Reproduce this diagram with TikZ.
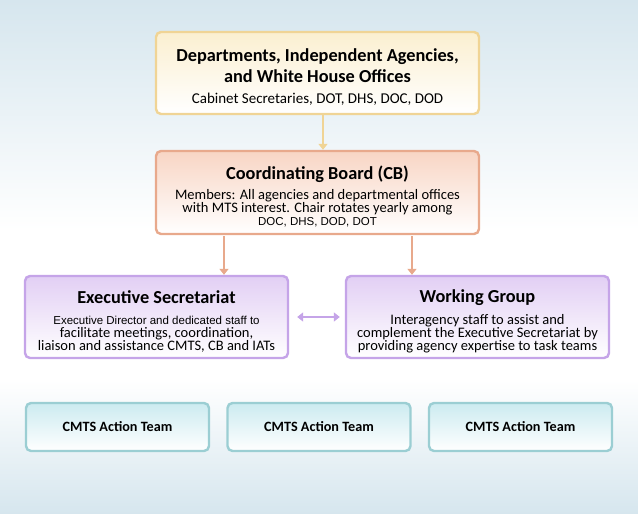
\documentclass[tikz,border=0pt]{standalone}
\usepackage{fontspec}
\setmainfont{Carlito}
\newfontfamily\arialfont{Liberation Sans}
\usetikzlibrary{positioning,arrows.meta,calc}

\definecolor{bgblue}{HTML}{D6E6EE}
\definecolor{goldline}{HTML}{F0D495}
\definecolor{goldfill}{HTML}{FBEFD0}
\definecolor{salmonline}{HTML}{E8A98C}
\definecolor{salmonfill}{HTML}{F8D5C4}
\definecolor{lilacline}{HTML}{C5A4E8}
\definecolor{lilacfill}{HTML}{E2CFF4}
\definecolor{tealline}{HTML}{9BCED3}
\definecolor{tealfill}{HTML}{CCEBF0}

\tikzstyle{box} = [rectangle, rounded corners=5pt, line width=2.4pt,
align=center, inner sep=0pt, font=\fontsize{14.5}{13}\selectfont]
\tikzstyle{topblock} = [box, draw=goldline, top color=goldfill,
bottom color=white, minimum width=323pt, minimum height=82pt,
font=\fontsize{15}{21}\selectfont]
\tikzstyle{boardblock} = [box, draw=salmonline, top color=salmonfill,
bottom color=white, minimum width=323pt, minimum height=83pt]
\tikzstyle{groupblock} = [box, draw=lilacline, top color=lilacfill,
bottom color=white, minimum width=263pt, minimum height=82pt]
\tikzstyle{teamblock} = [box, draw=tealline, top color=tealfill,
bottom color=white, minimum width=183pt, minimum height=48pt,
font=\bfseries\fontsize{14.2}{16}\selectfont]
\tikzstyle{arrow} = [line width=2.6pt,-{Triangle[width=9pt,length=6pt]}]
\tikzstyle{doublearrow} = [line width=2.6pt,{Triangle[width=9pt,length=6pt]}-{Triangle[width=9pt,length=6pt]}]
\newcommand{\boxtitle}[1]{{\bfseries\fontsize{18.3}{20}\selectfont\rule{0pt}{21pt}#1}}
\newcommand{\arialline}[1]{{\arialfont\fontsize{11.5}{12}\selectfont #1}}

\begin{document}
\begin{tikzpicture}[x=1pt,y=1pt]
    % Background
    \useasboundingbox (0,0) rectangle (638,-514);
    \fill[top color=bgblue, bottom color=white] (0,0) rectangle (638,-230);
    \fill[white] (0,-230) rectangle (638,-380);
    \fill[top color=white, bottom color=bgblue] (0,-380) rectangle (638,-514);
    % Departments and Coordinating Board
    \node (DEPT) [topblock] at (317.5,-73) {\boxtitle{Departments, Independent Agencies,}\\
      {\bfseries\fontsize{18.3}{20}\selectfont and White House Offices}\\
      Cabinet Secretaries, DOT, DHS, DOC, DOD};
    \node (CB) [boardblock, below of=DEPT, node distance=119.5pt] {\boxtitle{Coordinating Board (CB)}\\[6pt]
      Members: All agencies and departmental offices\\
      with MTS interest. Chair rotates yearly among\\
      \arialline{DOC, DHS, DOD, DOT}};
    % Executive Secretariat and Working Group
    \node (ES) [groupblock] at (156.5,-317) {\boxtitle{Executive Secretariat}\\[8pt]
      \arialline{Executive Director and dedicated staff to}\\
      facilitate meetings, coordination,\\
      liaison and assistance CMTS, CB and IATs};
    \node (WG) [groupblock, right of=ES, node distance=321pt] {\boxtitle{Working Group}\\[8pt]
      Interagency staff to assist and\\
      complement the Executive Secretariat by\\
      providing agency expertise to task teams};
    % CMTS Action Teams
    \node (AT1) [teamblock] at (117.5,-427) {CMTS Action Team};
    \node (AT2) [teamblock, right of=AT1, node distance=201.5pt] {CMTS Action Team};
    \node (AT3) [teamblock, right of=AT2, node distance=201.5pt] {CMTS Action Team};
    % Connections
    \draw [arrow, draw=goldline, fill=goldline] ([xshift=5.5pt]DEPT.south) -- ([xshift=5.5pt]DEPT.south |- CB.north);
    \draw [arrow, draw=salmonline, fill=salmonline] ([xshift=-93.5pt,yshift=-1pt]CB.south) -- ([xshift=-93.5pt]CB.south |- ES.north);
    \draw [arrow, draw=salmonline, fill=salmonline] ([xshift=94.5pt,yshift=-1pt]CB.south) -- ([xshift=94.5pt]CB.south |- WG.north);
    \draw [doublearrow, draw=lilacline, fill=lilacline] ([xshift=8pt]ES.east) -- ([xshift=-5pt]WG.west);
\end{tikzpicture}
\end{document}
